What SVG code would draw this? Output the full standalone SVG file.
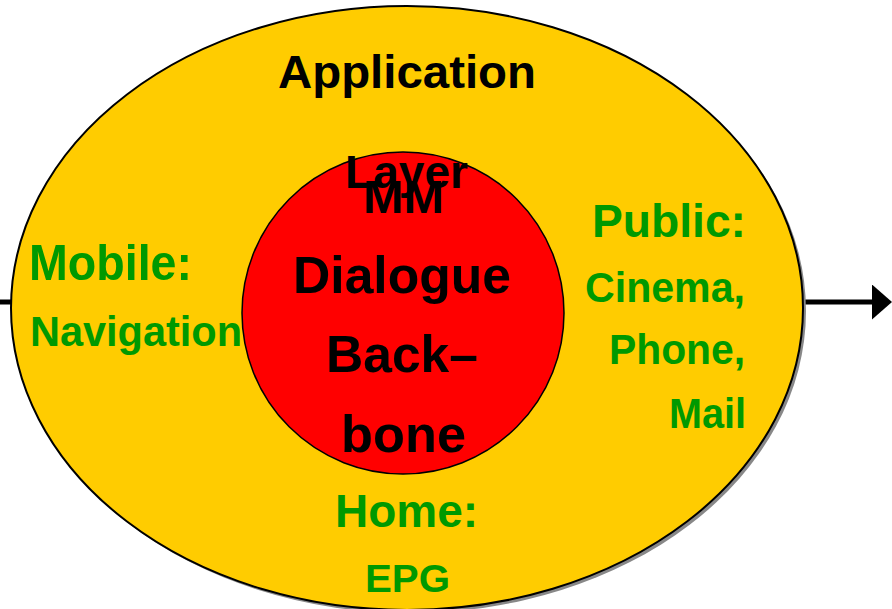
<svg xmlns="http://www.w3.org/2000/svg" width="892" height="609" viewBox="0 0 892 609">
  <style>
    text { font-family: "Liberation Sans", Arial, sans-serif; font-weight: bold; }
    .title { fill: #000; }
    .green { fill: #009900; }
  </style>
  <defs>
    <marker id="head" markerWidth="4" markerHeight="7" refX="0" refY="3.5" orient="auto" markerUnits="strokeWidth">
      <polygon points="0,0 4,3.5 0,7" fill="#000"/>
    </marker>
  </defs>
  <rect width="892" height="609" fill="#fff"/>

  <!-- flow line passing behind the layers -->
  <g id="connectors">
    <line x1="0" y1="302" x2="872" y2="302" stroke="#000" stroke-width="5" marker-end="url(#head)"/>
  </g>

  <g id="application-layer">
    <ellipse cx="410" cy="311" rx="396" ry="302" fill="#888"/>
    <ellipse cx="407" cy="308" rx="396" ry="302" fill="#ffcc00" stroke="#000" stroke-width="2"/>
    <text class="title" x="278" y="88" font-size="46" textLength="258" lengthAdjust="spacingAndGlyphs">Application</text>
  </g>

  <g id="backbone">
    <circle cx="403" cy="313" r="161" fill="#ff0000" stroke="#000" stroke-width="1.5"/>
    <text class="title" x="363" y="213" font-size="46" textLength="81" lengthAdjust="spacingAndGlyphs">MM</text>
    <text class="title" x="293" y="293" font-size="52" textLength="218" lengthAdjust="spacingAndGlyphs">Dialogue</text>
    <text class="title" x="326" y="372" font-size="52" textLength="152" lengthAdjust="spacingAndGlyphs">Back–</text>
    <text class="title" x="341" y="452" font-size="52" textLength="125" lengthAdjust="spacingAndGlyphs">bone</text>
  </g>

  <!-- second line of the outer layer title, printed over the backbone -->
  <g id="application-layer-label">
    <text class="title" x="345" y="188" font-size="47" textLength="123" lengthAdjust="spacingAndGlyphs">Layer</text>
  </g>

  <g id="mobile">
    <text class="green" x="29" y="280" font-size="50" textLength="163" lengthAdjust="spacingAndGlyphs">Mobile:</text>
    <text class="green" x="30" y="346" font-size="43" textLength="212" lengthAdjust="spacingAndGlyphs">Navigation</text>
  </g>

  <g id="public">
    <text class="green" x="592" y="237" font-size="47" textLength="154" lengthAdjust="spacingAndGlyphs">Public:</text>
    <text class="green" x="585" y="302" font-size="43" textLength="160" lengthAdjust="spacingAndGlyphs">Cinema,</text>
    <text class="green" x="609" y="364" font-size="43" textLength="136" lengthAdjust="spacingAndGlyphs">Phone,</text>
    <text class="green" x="669" y="428" font-size="42" textLength="77" lengthAdjust="spacingAndGlyphs">Mail</text>
  </g>

  <g id="home">
    <text class="green" x="335" y="527" font-size="46" textLength="143" lengthAdjust="spacingAndGlyphs">Home:</text>
    <text class="green" x="365" y="592" font-size="38" textLength="85" lengthAdjust="spacingAndGlyphs">EPG</text>
  </g>
</svg>
